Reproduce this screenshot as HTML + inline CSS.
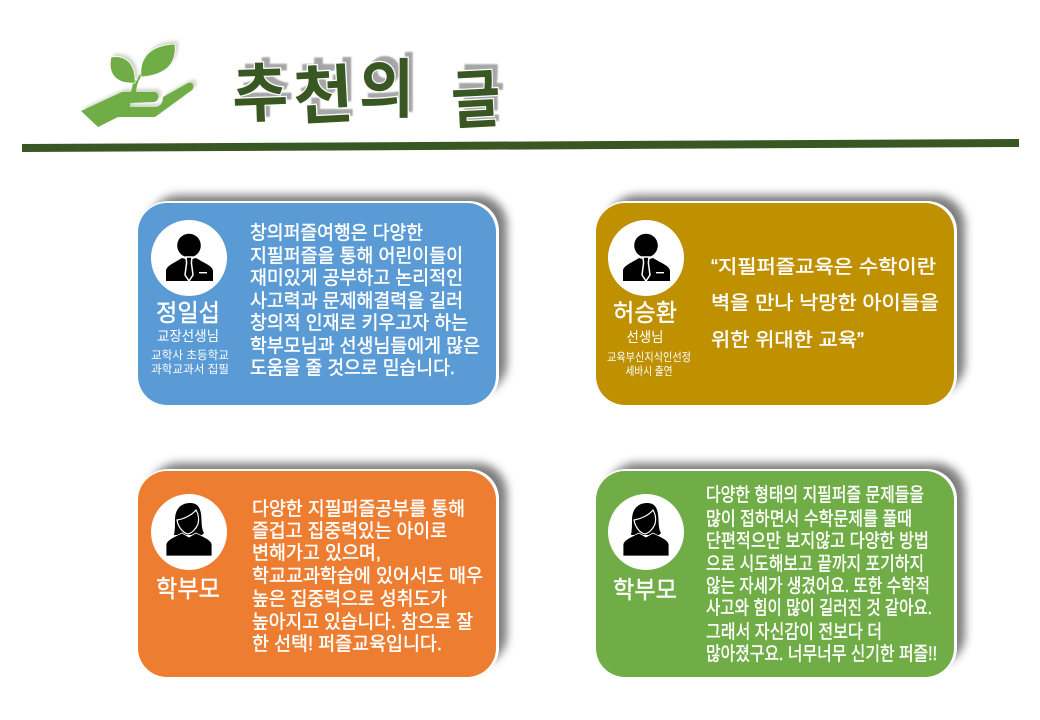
<!DOCTYPE html>
<html lang="ko">
<head>
<meta charset="utf-8">
<title>추천의 글</title>
<style>
html,body{margin:0;padding:0;background:#fff;width:1040px;height:720px;overflow:hidden}
svg{display:block}
text{font-family:"Liberation Sans","Noto Sans CJK KR","NanumGothic",sans-serif;fill:#fff}
.b{font-size:19px;stroke:#fff;stroke-width:.45px}
.n{font-size:24px;text-anchor:middle;stroke:#fff;stroke-width:.4px}
.r{font-size:14px;text-anchor:middle}
.s{font-size:11.5px;text-anchor:middle}
.t{font-family:"Noto Sans CJK KR","NanumGothic",sans-serif;font-weight:700;font-size:64px}
.g{fill:#a6a6a6}
.d{fill:#385723;stroke:#fff;stroke-width:2.5px;paint-order:stroke}
</style>
</head>
<body>
<svg width="1040" height="720" viewBox="0 0 1040 720" xmlns="http://www.w3.org/2000/svg">
<defs>
<filter id="sh" x="-10%" y="-15%" width="120%" height="130%"><feGaussianBlur stdDeviation="4.5"/></filter>
<filter id="sh2" x="-20%" y="-20%" width="140%" height="140%"><feGaussianBlur stdDeviation=".8"/></filter>
<filter id="ic" x="-20%" y="-20%" width="140%" height="140%"><feGaussianBlur stdDeviation="1.6"/></filter>
<symbol id="man" overflow="visible">
<circle cx="0" cy="0" r="38" fill="#fff"/>
<circle cx="0" cy="-12.5" r="11.8" fill="#000"/>
<path d="M-23 23V13C-23 8-15 5-7 0L0 2 7 0C15 5 24 8 24 13V23Z" fill="#000"/>
<path d="M-3-1H3L2.4 5 4 17 0 23-4 17-2.4 5Z" fill="#000" stroke="#fff" stroke-width="1.5"/>
<rect x="10" y="14" width="8" height="1.4" fill="#fff"/>
</symbol>
<symbol id="woman" overflow="visible">
<circle cx="0" cy="0" r="38" fill="#fff"/>
<path d="M-14-12C-14-24-7-29 1-29 8-29 11-25 12-18 13-10 12-4 15 1L13 3-15 3C-14-2-14-7-14-12Z" fill="#000"/>
<path d="M-23 24V13C-23 8-15 5-7 1L0 5 7 1C15 5 23 8 23 13V24Z" fill="#000" stroke="#fff" stroke-width=".8"/>
<path d="M-12-12C-5-13 3-17 7-22 10-17 10-12 9-8 7-3 3 1-1 2-6 1-11-5-12-12Z" fill="#000" stroke="#fff" stroke-width="1.2"/>
</symbol>
</defs>

<!-- header icon -->
<g transform="translate(3,-3)" fill="#b9c6ae" filter="url(#ic)" opacity=".7">
<path d="M81 111 122 92H154C160 92 160 102 153 102L130 103V107H155C160 107 163 103 163 97L188 83C193 81 195 87 192 90L155 117H118L98 127Z"/>
<path d="M175 44C176 62 168 74 141 77 139 55 152 44 175 44ZM111 57C130 55 135 68 135 82 119 84 108 76 111 57Z"/>
</g>
<path d="M136 92C137 82 140 76 147 71L144 69C140 73 138 77 137 81L134 79 131 92Z" fill="#70ad47"/>
<path d="M175 44C177 64 166 75 141 77 139 56 152 45 175 44Z" fill="#70ad47" stroke="#fff" stroke-width=".8"/>
<path d="M111 57C129 54 136 68 135 83 118 84 107 76 111 57Z" fill="#70ad47" stroke="#fff" stroke-width=".8"/>
<path d="M81 111 122 92H154C160 92 160 102 153 102L130 103V107H155C160 107 163 103 163 97L188 83C193 81 195 87 192 90L155 117H118L98 127Z" fill="#70ad47"/>

<!-- title -->
<g filter="url(#sh2)">
<text class="t g" x="238" y="111" textLength="56" lengthAdjust="spacingAndGlyphs">추</text>
<text class="t g" x="298" y="111" textLength="60" lengthAdjust="spacingAndGlyphs">천</text>
<text class="t g" x="365" y="106" textLength="54" lengthAdjust="spacingAndGlyphs">의</text>
<text class="t g" x="457" y="116" textLength="48" lengthAdjust="spacingAndGlyphs">글</text>
</g>
<text class="t d" x="232" y="116" textLength="56" lengthAdjust="spacingAndGlyphs" transform="rotate(-2 260 90)">추</text>
<text class="t d" x="293" y="118" textLength="60" lengthAdjust="spacingAndGlyphs" transform="rotate(-3 323 90)">천</text>
<text class="t d" x="359" y="112" textLength="55" lengthAdjust="spacingAndGlyphs">의</text>
<text class="t d" x="451" y="122" textLength="49" lengthAdjust="spacingAndGlyphs" transform="rotate(-3 475 95)">글</text>

<!-- rule -->
<polygon points="22,144 1019,139 1019,147 22,152" fill="#385723"/>

<!-- card 1 -->
<rect x="149" y="195" width="358" height="198" rx="30" fill="#666" opacity=".85" filter="url(#sh)"/>
<rect x="138" y="201" width="361" height="204.5" rx="30" fill="#fff"/>
<rect x="138" y="203" width="358" height="202" rx="29" fill="#5b9bd5"/>
<use href="#man" x="189" y="258"/>
<text class="n" x="188" y="321" textLength="64" lengthAdjust="spacingAndGlyphs">정일섭</text>
<text class="r" x="188" y="341" textLength="62" lengthAdjust="spacingAndGlyphs">교장선생님</text>
<text class="s" x="190" y="359" textLength="78" lengthAdjust="spacingAndGlyphs">교학사 초등학교</text>
<text class="s" x="190" y="373" textLength="78" lengthAdjust="spacingAndGlyphs">과학교과서 집필</text>
<g class="b">
<text x="250" y="239" textLength="173" lengthAdjust="spacingAndGlyphs">창의퍼즐여행은 다양한</text>
<text x="250" y="262" textLength="213" lengthAdjust="spacingAndGlyphs">지필퍼즐을 통해 어린이들이</text>
<text x="250" y="284" textLength="213" lengthAdjust="spacingAndGlyphs">재미있게 공부하고 논리적인</text>
<text x="250" y="307" textLength="213" lengthAdjust="spacingAndGlyphs">사고력과 문제해결력을 길러</text>
<text x="250" y="329" textLength="218" lengthAdjust="spacingAndGlyphs">창의적 인재로 키우고자 하는</text>
<text x="250" y="352" textLength="230" lengthAdjust="spacingAndGlyphs">학부모님과 선생님들에게 많은</text>
<text x="250" y="374" textLength="205" lengthAdjust="spacingAndGlyphs">도움을 줄 것으로 믿습니다.</text>
</g>

<!-- card 2 -->
<rect x="607" y="195" width="358" height="198" rx="30" fill="#666" opacity=".85" filter="url(#sh)"/>
<rect x="596" y="201" width="361" height="204.5" rx="30" fill="#fff"/>
<rect x="596" y="203" width="358" height="202" rx="29" fill="#bf9000"/>
<use href="#man" x="646" y="258"/>
<text class="n" x="645" y="321" textLength="64" lengthAdjust="spacingAndGlyphs">허승환</text>
<text class="r" x="645" y="342" textLength="37" lengthAdjust="spacingAndGlyphs">선생님</text>
<text class="s" x="649" y="361" textLength="84" lengthAdjust="spacingAndGlyphs">교육부신지식인선정</text>
<text class="s" x="649" y="375" textLength="47" lengthAdjust="spacingAndGlyphs">세바시 출연</text>
<g class="b">
<text x="711" y="273" textLength="225" lengthAdjust="spacingAndGlyphs">“지필퍼즐교육은 수학이란</text>
<text x="711" y="309" textLength="228" lengthAdjust="spacingAndGlyphs">벽을 만나 낙망한 아이들을</text>
<text x="711" y="346" textLength="153" lengthAdjust="spacingAndGlyphs">위한 위대한 교육”</text>
</g>

<!-- card 3 -->
<rect x="149" y="463" width="358" height="202" rx="30" fill="#666" opacity=".85" filter="url(#sh)"/>
<rect x="138" y="469" width="361" height="208.5" rx="30" fill="#fff"/>
<rect x="138" y="471" width="358" height="206" rx="29" fill="#ed7d31"/>
<use href="#woman" x="189" y="532"/>
<text class="n" x="188" y="597" textLength="64" lengthAdjust="spacingAndGlyphs">학부모</text>
<g class="b">
<text x="252" y="515" textLength="213" lengthAdjust="spacingAndGlyphs">다양한 지필퍼즐공부를 통해</text>
<text x="252" y="537" textLength="195" lengthAdjust="spacingAndGlyphs">즐겁고 집중력있는 아이로</text>
<text x="252" y="559" textLength="129" lengthAdjust="spacingAndGlyphs">변해가고 있으며,</text>
<text x="252" y="582" textLength="231" lengthAdjust="spacingAndGlyphs">학교교과학습에 있어서도 매우</text>
<text x="252" y="605" textLength="195" lengthAdjust="spacingAndGlyphs">높은 집중력으로 성취도가</text>
<text x="252" y="628" textLength="221" lengthAdjust="spacingAndGlyphs">높아지고 있습니다. 참으로 잘</text>
<text x="252" y="650" textLength="190" lengthAdjust="spacingAndGlyphs">한 선택! 퍼즐교육입니다.</text>
</g>

<!-- card 4 -->
<rect x="607" y="463" width="358" height="202" rx="30" fill="#666" opacity=".85" filter="url(#sh)"/>
<rect x="596" y="469" width="361" height="208.5" rx="30" fill="#fff"/>
<rect x="596" y="471" width="358" height="206" rx="29" fill="#70ad47"/>
<use href="#woman" x="646" y="532"/>
<text class="n" x="645" y="598" textLength="64" lengthAdjust="spacingAndGlyphs">학부모</text>
<g class="b">
<text x="706" y="501" textLength="218" lengthAdjust="spacingAndGlyphs">다양한 형태의 지필퍼즐 문제들을</text>
<text x="706" y="525" textLength="206" lengthAdjust="spacingAndGlyphs">많이 접하면서 수학문제를 풀때</text>
<text x="706" y="547" textLength="223" lengthAdjust="spacingAndGlyphs">단편적으만 보지않고 다양한 방법</text>
<text x="706" y="570" textLength="218" lengthAdjust="spacingAndGlyphs">으로 시도해보고 끝까지 포기하지</text>
<text x="706" y="592" textLength="224" lengthAdjust="spacingAndGlyphs">않는 자세가 생겼어요. 또한 수학적</text>
<text x="706" y="614" textLength="226" lengthAdjust="spacingAndGlyphs">사고와 힘이 많이 길러진 것 같아요.</text>
<text x="706" y="638" textLength="176" lengthAdjust="spacingAndGlyphs">그래서 자신감이 전보다 더</text>
<text x="706" y="660" textLength="231" lengthAdjust="spacingAndGlyphs">많아졌구요. 너무너무 신기한 퍼즐!!</text>
</g>
</svg>
</body>
</html>
